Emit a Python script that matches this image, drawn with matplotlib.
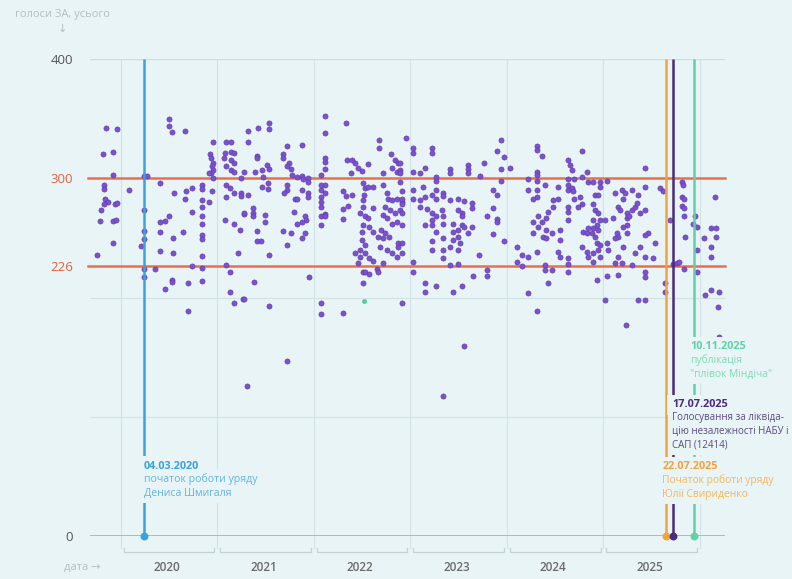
import matplotlib.pyplot as plt

plt.rcParams['font.family'] = ['Open Sans', 'DejaVu Sans']

# ---- data: votes "for" per roll-call, x = date as decimal year
dates_2019 = [2019.85, 2019.96, 2019.81, 2019.92, 2019.92, 2019.82, 2019.82, 2019.84, 2019.87,
              2019.83, 2019.94, 2019.96, 2019.79, 2019.92, 2019.95, 2019.78, 2019.92, 2019.75]
votes_2019 = [342, 341, 320, 322, 303, 294, 291, 283, 280,
              278, 278, 279, 273, 264, 265, 264, 246, 236]

dates_2020 = [2020.08, 2020.24, 2020.27, 2020.24, 2020.24, 2020.24, 2020.21, 2020.24, 2020.24, 2020.35,
              2020.50, 2020.50, 2020.53, 2020.66, 2020.41, 2020.55, 2020.67, 2020.74, 2020.66, 2020.84,
              2020.84, 2020.95, 2020.94, 2020.91, 2020.84, 2020.84, 2020.84, 2020.84, 2020.84, 2020.84,
              2020.84, 2020.74, 2020.50, 2020.46, 2020.41, 2020.41, 2020.54, 2020.64, 2020.41, 2020.54,
              2020.74, 2020.84, 2020.53, 2020.53, 2020.70, 2020.84, 2020.46, 2020.70, 2020.92, 2020.93,
              2020.95, 2020.94, 2020.95, 2020.93, 2020.95, 2020.91]
votes_2020 = [290, 302, 302, 273, 256, 249, 243, 224, 217, 224,
              350, 344, 339, 340, 296, 288, 289, 292, 283, 294,
              291, 330, 289, 280, 282, 276, 268, 262, 252, 249,
              235, 272, 268, 264, 263, 255, 250, 255, 239, 237,
              226, 225, 215, 213, 212, 214, 207, 189, 320, 317,
              313, 310, 307, 304, 300, 304]

dates_2021 = [2021.09, 2021.14, 2021.08, 2021.14, 2021.07, 2021.17, 2021.14, 2021.17, 2021.09, 2021.14,
              2021.17, 2021.28, 2021.24, 2021.09, 2021.13, 2021.17, 2021.24, 2021.24, 2021.09, 2021.28,
              2021.08, 2021.17, 2021.23, 2021.21, 2021.09, 2021.13, 2021.13, 2021.17, 2021.27, 2021.31,
              2021.32, 2021.42, 2021.53, 2021.53, 2021.32, 2021.72, 2021.88, 2021.68, 2021.68, 2021.74,
              2021.72, 2021.76, 2021.77, 2021.83, 2021.88, 2021.94, 2021.94, 2021.89, 2021.41, 2021.41,
              2021.39, 2021.46, 2021.51, 2021.54, 2021.47, 2021.52, 2021.46, 2021.52, 2021.72, 2021.72,
              2021.69, 2021.80, 2021.83, 2021.94, 2021.94, 2021.88, 2021.32, 2021.37, 2021.37, 2021.37,
              2021.49, 2021.49, 2021.79, 2021.91, 2021.92, 2021.88, 2021.83, 2021.68, 2021.76, 2021.91,
              2021.88, 2021.72, 2021.41, 2021.41, 2021.45, 2021.53, 2021.28, 2021.95, 2021.38, 2021.28,
              2021.53, 2021.72]
votes_2021 = [330, 330, 321, 322, 317, 321, 315, 313, 310, 307,
              305, 305, 300, 294, 292, 288, 288, 285, 284, 270,
              265, 262, 257, 237, 227, 221, 205, 195, 199, 126,
              340, 342, 346, 341, 330, 327, 328, 320, 317, 313,
              310, 308, 303, 301, 302, 300, 297, 299, 319, 317,
              305, 307, 311, 308, 301, 296, 293, 291, 294, 290,
              288, 283, 283, 288, 284, 290, 286, 275, 271, 268,
              269, 263, 272, 268, 265, 263, 262, 256, 254, 254,
              250, 244, 256, 247, 247, 236, 271, 217, 213, 199,
              193, 147]

dates_2022 = [2022.12, 2022.12, 2022.33, 2022.12, 2022.12, 2022.12, 2022.07, 2022.07, 2022.07, 2022.07,
              2022.07, 2022.07, 2022.12, 2022.12, 2022.12, 2022.07, 2022.12, 2022.07, 2022.07, 2022.07,
              2022.30, 2022.30, 2022.30, 2022.30, 2022.33, 2022.40, 2022.35, 2022.34, 2022.40, 2022.43,
              2022.38, 2022.46, 2022.50, 2022.56, 2022.67, 2022.67, 2022.80, 2022.84, 2022.87, 2022.81,
              2022.86, 2022.89, 2022.72, 2022.51, 2022.53, 2022.52, 2022.56, 2022.61, 2022.51, 2022.51,
              2022.48, 2022.53, 2022.56, 2022.51, 2022.50, 2022.57, 2022.61, 2022.50, 2022.53, 2022.48,
              2022.43, 2022.48, 2022.53, 2022.57, 2022.46, 2022.51, 2022.53, 2022.57, 2022.51, 2022.61,
              2022.72, 2022.76, 2022.77, 2022.81, 2022.86, 2022.91, 2022.74, 2022.79, 2022.84, 2022.89,
              2022.72, 2022.76, 2022.81, 2022.86, 2022.91, 2022.70, 2022.74, 2022.78, 2022.72, 2022.66,
              2022.68, 2022.76, 2022.81, 2022.87, 2022.87, 2022.86, 2022.72, 2022.65, 2022.61, 2022.66,
              2022.91, 2022.95, 2022.89, 2022.89, 2022.89, 2022.91, 2022.91, 2022.91, 2022.91, 2022.91,
              2022.91]
votes_2022 = [352, 338, 346, 317, 314, 308, 303, 294, 290, 284,
              280, 276, 294, 288, 270, 268, 268, 261, 195, 186,
              187, 289, 274, 266, 285, 286, 277, 315, 315, 313,
              304, 309, 306, 312, 332, 325, 320, 315, 313, 309,
              305, 307, 304, 296, 292, 286, 293, 293, 282, 276,
              271, 268, 267, 261, 255, 259, 255, 248, 244, 240,
              237, 234, 237, 233, 229, 221, 221, 220, 212, 275,
              294, 288, 283, 282, 283, 280, 276, 273, 271, 273,
              269, 267, 262, 263, 261, 257, 254, 251, 250, 251,
              242, 240, 237, 246, 242, 234, 229, 224, 231, 221,
              195, 334, 313, 304, 297, 289, 283, 278, 271, 246,
              237]

dates_2023 = [2023.03, 2023.03, 2023.22, 2023.22, 2023.03, 2023.10, 2023.15, 2023.27, 2023.27, 2023.41,
              2023.41, 2023.60, 2023.60, 2023.60, 2023.72, 2023.76, 2023.03, 2023.03, 2023.13, 2023.15,
              2023.10, 2023.22, 2023.27, 2023.34, 2023.34, 2023.27, 2023.10, 2023.17, 2023.22, 2023.27,
              2023.33, 2023.34, 2023.34, 2023.22, 2023.22, 2023.27, 2023.15, 2023.22, 2023.22, 2023.34,
              2023.34, 2023.34, 2023.41, 2023.44, 2023.44, 2023.44, 2023.49, 2023.49, 2023.53, 2023.56,
              2023.64, 2023.60, 2023.51, 2023.49, 2023.49, 2023.53, 2023.49, 2023.56, 2023.64, 2023.64,
              2023.41, 2023.53, 2023.71, 2023.41, 2023.49, 2023.03, 2023.03, 2023.15, 2023.15, 2023.27,
              2023.44, 2023.53, 2023.65, 2023.79, 2023.79, 2023.56, 2023.34, 2023.94, 2023.90, 2023.97,
              2023.94, 2024.03, 2023.94, 2023.86, 2023.90, 2023.86, 2023.90, 2023.90, 2023.86, 2023.97,
              2023.79]
votes_2023 = [325, 321, 325, 321, 305, 304, 309, 301, 298, 308,
              304, 311, 308, 304, 302, 313, 290, 283, 293, 284,
              282, 286, 290, 288, 285, 283, 276, 274, 271, 268,
              273, 268, 262, 265, 261, 255, 261, 247, 240, 250,
              240, 233, 242, 248, 255, 262, 257, 251, 261, 259,
              259, 254, 246, 240, 273, 271, 283, 281, 279, 275,
              282, 268, 236, 227, 228, 230, 221, 212, 205, 210,
              205, 210, 218, 223, 218, 159, 117, 332, 323, 318,
              308, 309, 298, 290, 286, 275, 266, 263, 253, 247,
              268]

dates_2024 = [2024.31, 2024.31, 2024.36, 2024.31, 2024.31, 2024.31, 2024.22, 2024.22, 2024.31, 2024.31,
              2024.27, 2024.39, 2024.48, 2024.48, 2024.43, 2024.32, 2024.41, 2024.36, 2024.27, 2024.32,
              2024.41, 2024.37, 2024.41, 2024.47, 2024.27, 2024.10, 2024.16, 2024.22, 2024.31, 2024.10,
              2024.16, 2024.39, 2024.39, 2024.47, 2024.43, 2024.22, 2024.31, 2024.78, 2024.63, 2024.65,
              2024.67, 2024.83, 2024.78, 2024.70, 2024.63, 2024.84, 2024.89, 2024.96, 2025.04, 2024.53,
              2024.53, 2024.63, 2024.63, 2024.67, 2024.68, 2024.70, 2024.76, 2024.78, 2024.74, 2024.63,
              2024.63, 2024.63, 2024.55, 2024.55, 2024.53, 2024.55, 2024.63, 2024.63, 2024.63, 2024.91,
              2024.94, 2024.96, 2024.89, 2024.91, 2024.89, 2024.94, 2024.96, 2025.02, 2024.93, 2024.89,
              2024.94, 2024.79, 2024.83, 2024.84, 2024.88, 2024.91, 2024.93, 2024.96, 2024.94, 2024.89,
              2024.84, 2024.89, 2024.78, 2024.83, 2025.04, 2025.05, 2024.96, 2024.93, 2025.02]
votes_2024 = [327, 324, 319, 305, 303, 298, 299, 290, 290, 284,
              283, 294, 282, 276, 272, 268, 267, 263, 263, 259,
              257, 251, 250, 254, 254, 242, 236, 234, 238, 230,
              226, 227, 223, 223, 212, 204, 189, 323, 315, 311,
              307, 305, 301, 299, 299, 297, 297, 297, 298, 293,
              283, 294, 290, 292, 289, 283, 284, 278, 276, 276,
              272, 265, 257, 248, 238, 234, 233, 228, 221, 286,
              286, 293, 278, 273, 265, 271, 265, 265, 261, 258,
              257, 255, 254, 258, 254, 251, 246, 244, 240, 237,
              234, 230, 242, 238, 246, 240, 234, 215, 198]

dates_2025 = [2025.12, 2025.19, 2025.22, 2025.20, 2025.15, 2025.17, 2025.10, 2025.24, 2025.24, 2025.30,
              2025.33, 2025.35, 2025.27, 2025.38, 2025.43, 2025.24, 2025.20, 2025.14, 2025.15, 2025.12,
              2025.24, 2025.20, 2025.15, 2025.19, 2025.12, 2025.33, 2025.38, 2025.43, 2025.46, 2025.43,
              2025.53, 2025.51, 2025.30, 2025.36, 2025.43, 2025.30, 2025.43, 2025.43, 2025.15, 2025.04,
              2025.36, 2025.43, 2025.23, 2025.43, 2025.59, 2025.62, 2025.64, 2025.64, 2025.69, 2025.72,
              2025.76, 2025.78, 2025.81, 2025.82, 2025.81, 2025.84, 2025.81, 2025.84, 2025.84, 2025.85,
              2025.84, 2025.95, 2025.93, 2025.97, 2025.97, 2025.97, 2026.16, 2026.04, 2026.12, 2026.17,
              2026.17, 2026.12, 2026.12, 2026.05, 2026.12, 2026.20, 2026.19, 2026.20]
votes_2025 = [288, 290, 288, 283, 276, 273, 267, 271, 267, 273,
              276, 279, 268, 271, 273, 261, 259, 254, 251, 250,
              254, 242, 234, 229, 229, 237, 242, 234, 254, 252,
              246, 233, 290, 286, 293, 227, 221, 217, 219, 218,
              198, 198, 177, 309, 292, 289, 212, 205, 265, 228,
              229, 230, 297, 294, 284, 283, 277, 275, 268, 251,
              224, 268, 262, 259, 240, 221, 284, 250, 258, 258,
              251, 242, 234, 202, 206, 205, 192, 167]

# one roll-call shown in green
green_dates = [2022.52]
green_votes = [197]

ytick_values = [0, 226, 300, 400]
ytick_labels = ['0', '226', '300', '400']
threshold_values = [226, 300]
years = [2020, 2021, 2022, 2023, 2024, 2025]

event_x = [2020.24, 2025.65, 2025.72, 2025.94]
event_colors = ['#3aa2e0', '#f5a23a', '#4a2c7e', '#62d0a8']
event_dates = ['04.03.2020', '22.07.2025', '17.07.2025', '10.11.2025']
event_texts = ['початок роботи уряду\nДениса Шмигаля',
               'Початок роботи уряду\nЮлії Свириденко',
               'Голосування за ліквіда-\nцію незалежності НАБУ і\nСАП (12414)',
               'публікація\n"плівок Міндіча"']
event_body_colors = ['#62b4e6', '#f7b65c', '#5b4a80', '#7fdab8']
event_body_sizes = [7.6, 7.4, 7.0, 7.4]
event_label_x = [2020.24, 2025.61, 2025.71, 2025.90]
event_label_y = [58.7, 57.9, 109.9, 158.5]

dates = (dates_2019 + dates_2020 + dates_2021 + dates_2022
         + dates_2023 + dates_2024 + dates_2025)
votes = (votes_2019 + votes_2020 + votes_2021 + votes_2022
         + votes_2023 + votes_2024 + votes_2025)

BG = '#e8f4f5'
GRID = '#d3e3e5'

fig = plt.figure(figsize=(7.92, 5.79), dpi=100, facecolor=BG)
ax = fig.add_axes([90 / 792, 1 - 536 / 579, 635 / 792, 477 / 579], facecolor=BG)
ax.set_xlim(2019.68, 2026.26)
ax.set_ylim(0, 400)
for s in ax.spines.values():
    s.set_visible(False)

# y ticks
ax.set_xticks([])
ax.set_yticks(ytick_values, ytick_labels)
ax.tick_params(axis='y', length=0, pad=12, labelsize=9.5)
for lab, v in zip(ax.get_yticklabels(), ytick_values):
    lab.set_color('#e8603c' if v in threshold_values else '#555555')

# grid
for y in [100, 200]:
    ax.axhline(y, color=GRID, lw=0.8, zorder=1)
ax.axhline(400, color='#cfdcde', lw=1, zorder=1)
for yr in years + [2026]:
    ax.plot([yr, yr], [-10, 400], color=GRID, lw=0.8, zorder=1, clip_on=False)

# year brackets and labels
for yr in years:
    x0, x1 = yr + 0.03, yr + 0.97
    ax.plot([x0, x0, x1, x1], [-10, -13.4, -13.4, -10], color='#c3d2d4', lw=0.9,
            clip_on=False, zorder=1)
    ax.text(yr + 0.48, -26, str(yr), ha='center', va='center', fontsize=8.5,
            color='#6b6b6b', fontweight='semibold')

# axis base line
ax.axhline(0, color='#9fb0b3', lw=1.2, zorder=2)

# threshold lines
for v in threshold_values:
    ax.plot([2019.66, 2026.26], [v, v], color='#e8704f', lw=1.8, zorder=2,
            clip_on=False)

# points
ax.scatter(dates, votes, s=14, c='#7c50d2', edgecolors='#5b3b9c', linewidths=0.4,
           zorder=3)
ax.scatter(green_dates, green_votes, s=6, c='#4fcf9a', zorder=3)

# events
bbox = dict(boxstyle='square,pad=0.45', fc=BG, ec='none')
for x, c, d, t, bc, bs, lx, ly in zip(event_x, event_colors, event_dates, event_texts,
                                     event_body_colors, event_body_sizes,
                                     event_label_x, event_label_y):
    ax.plot([x, x], [0, 400], color=c, lw=1.8, zorder=4, solid_capstyle='butt')
    ax.scatter([x], [0], s=22, color=c, zorder=5, clip_on=False)
    ax.text(lx, ly, d, ha='left', va='center', fontsize=7.8, fontweight='bold',
            color=c, bbox=bbox, zorder=6)
    ax.text(lx, ly - 6.3, t, ha='left', va='top', fontsize=bs, color=bc,
            linespacing=1.3, bbox=bbox, zorder=6)

# axis titles
fig.text(62 / 792, 1 - 14 / 579, 'голоси ЗА, усього', ha='center', va='center',
         fontsize=8, color='#b3c0c3')
fig.text(62 / 792, 1 - 29 / 579, '↓', ha='center', va='center',
         fontsize=8, color='#b3c0c3', family='DejaVu Sans')
fig.text(100 / 792, 1 - 567 / 579, 'дата →', ha='right', va='center',
         fontsize=8, color='#b3c0c3', family=['Open Sans', 'DejaVu Sans'])

fig.savefig('out.png', dpi=100, facecolor=BG)
